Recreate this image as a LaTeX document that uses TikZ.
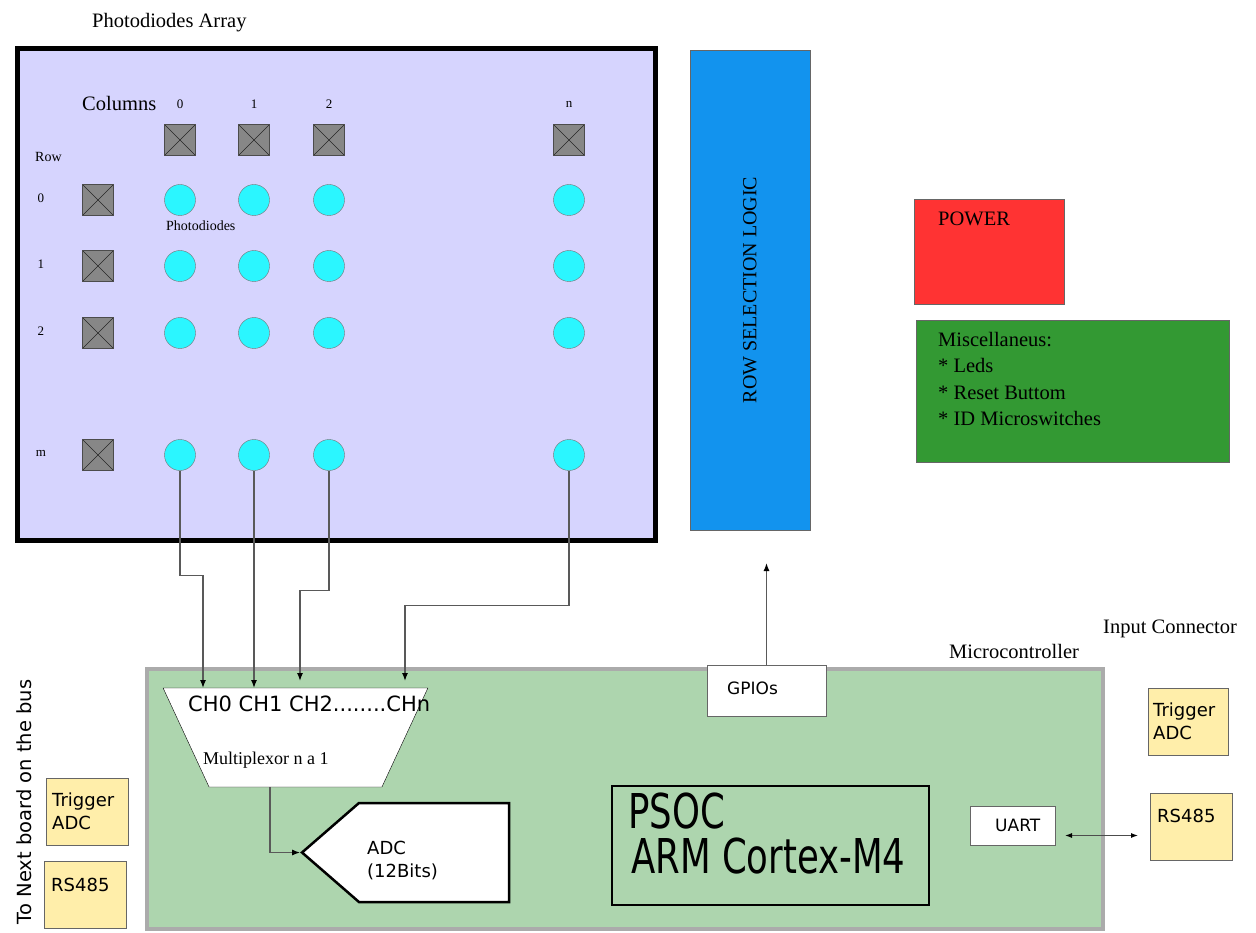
\documentclass[tikz,border=0pt]{standalone}
\usepackage{fontspec}
\usepackage{xcolor}
\usepackage{tikz}
\setmainfont{Liberation Serif}
\setsansfont{DejaVu Sans}
\newfontfamily\narrowsans[FakeStretch=0.74]{DejaVu Sans}
\usetikzlibrary{shapes,arrows,arrows.meta,positioning}

\definecolor{arrayfill}{HTML}{D6D4FE}
\definecolor{diodecyan}{HTML}{2BF6FF}
\definecolor{selblue}{HTML}{1293EE}
\definecolor{powerred}{HTML}{FF3333}
\definecolor{miscgreen}{HTML}{339933}
\definecolor{mcugreen}{HTML}{ADD5AE}
\definecolor{connyellow}{HTML}{FFEEAA}

\begin{document}
\begin{tikzpicture}[x=1pt,y=-1pt]
\tikzstyle{block} = [rectangle, draw=black!60, inner sep=0pt, outer sep=0pt, anchor=north west]
\tikzstyle{serif} = [font=\fontsize{20.5}{26.5}\selectfont, inner sep=0pt, anchor=north west, align=left]
\tikzstyle{sans} = [font=\sffamily\fontsize{18}{23}\selectfont, inner sep=0pt, anchor=north west, align=left]
\tikzstyle{tiny} = [font=\fontsize{13}{13}\selectfont, inner sep=0pt]
\tikzstyle{diode} = [circle, draw=black!55, fill=diodecyan, minimum size=31pt, inner sep=0pt]
\tikzstyle{selector} = [rectangle, draw=black!70, fill=black!47, minimum size=31pt, inner sep=0pt,
	path picture={\draw[black!85] (path picture bounding box.north west) -- (path picture bounding box.south east)
		(path picture bounding box.north east) -- (path picture bounding box.south west);}]
\tikzstyle{wire} = [draw=black!65, line width=1.3pt, -{Latex[length=8pt,width=6pt,color=black]}]
\useasboundingbox (0,0) rectangle (1256,933);

% photodiodes array
\node[serif] (arraytitle) at (92,13) {Photodiodes Array};
\node[block, draw=black, line width=5pt, fill=arrayfill, minimum width=638pt, minimum height=492pt] (array) at (17.5,48.5) {};
\node[serif] (columns) at (82,96) {Columns};
\node[tiny, anchor=north west, font=\fontsize{14}{14}\selectfont] (rowtitle) at (35,152) {Row};
\foreach \col/\x in {0/180,1/254,2/329,n/569} {
	\node[tiny] (colnum\col) at (\x,104) {\col};
	\node[selector] (colsel\col) at (\x,140) {};
	\foreach \row/\y in {0/200,1/266,2/333,m/455}
		\node[diode] (d\row\col) at (\x,\y) {};
}
\foreach \row/\y in {0/200,1/266,2/333,m/455} {
	\node[tiny] (rownum\row) at (41,\y-2) {\row};
	\node[selector] (rowsel\row) at (98,\y) {};
}
\node[tiny, anchor=north west, font=\fontsize{14}{14}\selectfont] (diodetext) at (166,221) {Photodiodes};

% side blocks
\node[block, fill=selblue, rotate=90, anchor=center, minimum width=480pt, minimum height=120pt,
	font=\fontsize{20}{20}\selectfont] (rowlogic) at (750,290) {ROW SELECTION LOGIC};
\node[block, fill=powerred, minimum width=150pt, minimum height=105pt] (power) at (914,199) {};
\node[serif] (powertext) at (938,212) {POWER};
\node[block, fill=miscgreen, minimum width=313pt, minimum height=142pt] (misc) at (916,320) {};
\node[serif] (misctext) at (938,332) {Miscellaneus:\\* Leds\\* Reset Buttom\\* ID Microswitches};

% microcontroller
\node[serif] (mcutitle) at (949,644) {Microcontroller};
\node[serif] (inputtitle) at (1103,620) {Input Connector};
\node[block, draw=black!33, line width=4pt, fill=mcugreen, minimum width=956pt, minimum height=260pt] (mcu) at (147,669) {};
\node[block, fill=white, minimum width=119pt, minimum height=51pt] (gpio) at (707,665) {};
\node[sans, font=\sffamily\fontsize{17}{17}\selectfont] (gpiotext) at (727,682) {GPIOs};
\node[trapezium, trapezium stretches=true, shape border rotate=180, trapezium left angle=72, trapezium right angle=72,
	draw, fill=white, minimum width=265pt, minimum height=99pt, inner sep=2pt] (mux) at (295.5,737.5) {\phantom{M}};
\node[sans, font=\sffamily\fontsize{21}{21}\selectfont] (chtext) at (188,696) {CH0 CH1 CH2........CHn};
\node[serif, font=\fontsize{18}{18}\selectfont] (muxtext) at (203,752) {Multiplexor n a 1};
\node[signal, signal to=west, signal pointer angle=82, draw, line width=2.5pt, fill=white,
	minimum width=207pt, minimum height=99pt, inner sep=2pt] (adc) at (434,852.5) {\phantom{M}};
\node[sans] (adctext) at (367,841) {ADC\\(12Bits)};
\node[block, draw=black, line width=1.5pt, minimum width=317pt, minimum height=119pt] (psoc) at (612,786) {};
\node[anchor=base west, inner sep=0pt, font=\narrowsans\fontsize{48}{48}\selectfont] (psoctext) at (628,828) {PSOC};
\node[anchor=base west, inner sep=0pt, font=\narrowsans\fontsize{48}{48}\selectfont] (armtext) at (631,873) {ARM Cortex-M4};
\node[block, fill=white, minimum width=85pt, minimum height=39pt] (uart) at (970,806) {};
\node[sans, font=\sffamily\fontsize{17}{17}\selectfont] (uarttext) at (995,819) {UART};

% connectors
\node[block, fill=connyellow, minimum width=80pt, minimum height=67pt] (trigright) at (1148,688) {};
\node[sans] (trigrighttext) at (1153,703) {Trigger\\ADC};
\node[block, fill=connyellow, minimum width=82pt, minimum height=67pt] (rsright) at (1150,793) {};
\node[sans] (rsrighttext) at (1157,809) {RS485};
\node[block, fill=connyellow, minimum width=82pt, minimum height=67pt] (trigleft) at (46,778) {};
\node[sans] (triglefttext) at (52,793) {Trigger\\ADC};
\node[block, fill=connyellow, minimum width=82pt, minimum height=67pt] (rsleft) at (44,861) {};
\node[sans] (rslefttext) at (51,878) {RS485};
\node[rotate=90, inner sep=0pt, font=\sffamily\fontsize{19.5}{19.5}\selectfont] (bustext) at (24,802) {To Next board on the bus};

% wiring
\coordinate (ch0) at (203,688);
\coordinate (ch1) at (254,688);
\coordinate (ch2) at (300,681);
\coordinate (chn) at (405,681);
\coordinate (selin) at (766.5,563);
\draw[wire] (dm0.south) -- ++(0,105) -| (ch0);
\draw[wire] (dm1.south) -- (ch1);
\draw[wire] (dm2.south) -- ++(0,120) -| (ch2);
\draw[wire] (dmn.south) -- ++(0,135) -| (chn);
\draw[wire] ([xshift=-25.5pt]mux.south) |- (adc.west);
\draw[wire] (gpio.north) -- (selin);
\coordinate (uartport) at ([xshift=10pt,yshift=-10pt]uart.east);
\draw[{Latex[length=7pt,width=5pt,color=black]}-{Latex[length=7pt,width=5pt,color=black]}, draw=black!70, line width=1pt, shorten >=12pt] (uartport) -- (uartport -| rsright.west);
\end{tikzpicture}
\end{document}
